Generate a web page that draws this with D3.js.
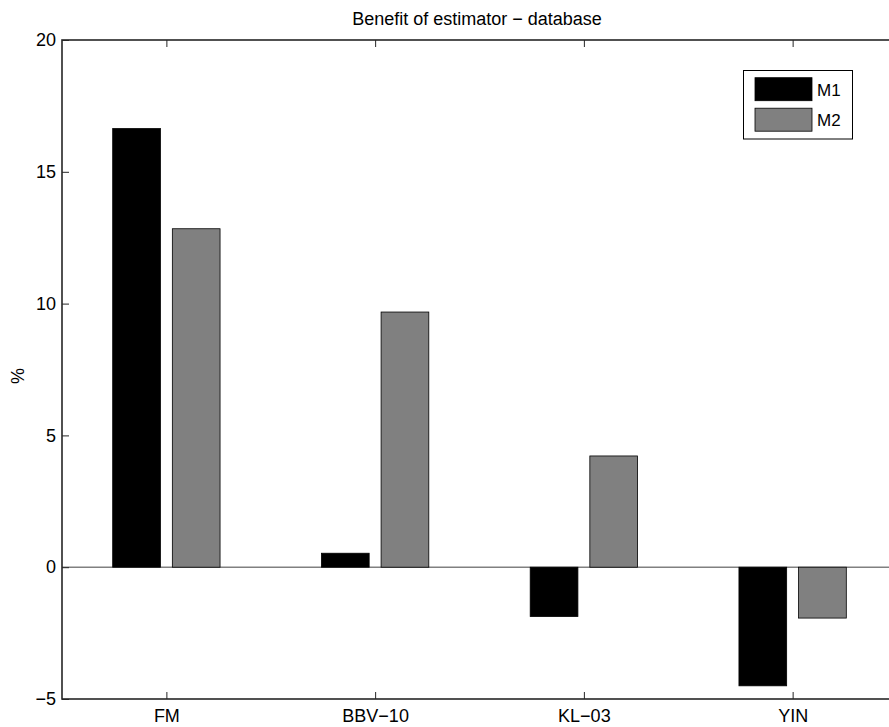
<!DOCTYPE html>
<html><head><meta charset="utf-8">
<script src="https://cdn.jsdelivr.net/npm/d3@7"></script>
<style>body{margin:0;background:#fff}svg{display:block;font-family:"Liberation Sans",Arial,sans-serif}</style>
</head><body>
<script>
const categories = ["FM", "BBV\u221210", "KL\u221203", "YIN"];
const seriesNames = ["M1", "M2"];
const m1Values = [16.64, 0.53, -1.87, -4.5];
const m2Values = [12.84, 9.68, 4.22, -1.93];
const seriesColors = ["#000000", "#808080"];
const yTicks = [-5, 0, 5, 10, 15, 20];
const yTickLabels = ["\u22125", "0", "5", "10", "15", "20"];
const titleText = "Benefit of estimator \u2212 database";
const yLabel = "%";

const W = 889, H = 727;
const pL = 62, pT = 40, pB = 699, pR = 897;
const FS = 18;
const svg = d3.select("body").append("svg").attr("width", W).attr("height", H);

const x = d3.scaleLinear().domain([0.5, 4.5]).range([pL, pR]);
const y = d3.scaleLinear().domain([-5, 20]).range([pB, pT]);

const nS = 2;
const groupW = Math.min(0.8, nS / (nS + 1.5));
const slot = groupW / nS;
const barW = slot * 0.8;
const series = [m1Values, m2Values];

// zero baseline
svg.append("line").attr("x1", pL).attr("x2", pR).attr("y1", y(0)).attr("y2", y(0))
  .attr("stroke", "#808080").attr("stroke-width", 1.5);

series.forEach((vals, s) => {
  const off = -groupW / 2 + slot * (s + 0.5);
  svg.append("g").selectAll("rect").data(vals).join("rect")
    .attr("x", (d, i) => x(i + 1 + off - barW / 2))
    .attr("width", (d, i) => x(i + 1 + off + barW / 2) - x(i + 1 + off - barW / 2))
    .attr("y", d => y(Math.max(0, d)))
    .attr("height", d => Math.abs(y(d) - y(0)))
    .attr("fill", seriesColors[s])
    .attr("stroke", "#000").attr("stroke-width", 0.8);
});

// axes frame
const frame = svg.append("g").attr("stroke", "#262626").attr("stroke-width", 1.6).attr("fill", "none");
frame.append("rect").attr("x", pL).attr("y", pT).attr("width", pR - pL).attr("height", pB - pT);

// left axis
const yAxis = d3.axisLeft(y).tickValues(yTicks).tickSizeInner(-7).tickSizeOuter(0)
  .tickFormat((d, i) => yTickLabels[i]).tickPadding(6);
const gy = svg.append("g").attr("transform", `translate(${pL},0)`).call(yAxis);
gy.select(".domain").remove();
gy.selectAll("line").attr("stroke", "#262626");
gy.selectAll("text").attr("font-size", FS).attr("fill", "#000").attr("font-family", "Liberation Sans, Arial, sans-serif");

// right ticks
const yAxisR = d3.axisRight(y).tickValues(yTicks).tickSizeInner(-7).tickSizeOuter(0).tickFormat("");
const gyr = svg.append("g").attr("transform", `translate(${pR},0)`).call(yAxisR);
gyr.select(".domain").remove();
gyr.selectAll("line").attr("stroke", "#262626");

// bottom axis
const xAxis = d3.axisBottom(x).tickValues([1, 2, 3, 4]).tickSizeInner(-7).tickSizeOuter(0)
  .tickFormat((d, i) => categories[i]).tickPadding(10);
const gx = svg.append("g").attr("transform", `translate(0,${pB})`).call(xAxis);
gx.select(".domain").remove();
gx.selectAll("line").attr("stroke", "#262626");
gx.selectAll("text").attr("font-size", FS).attr("fill", "#000").attr("font-family", "Liberation Sans, Arial, sans-serif");

// top ticks
const xAxisT = d3.axisTop(x).tickValues([1, 2, 3, 4]).tickSizeInner(-7).tickSizeOuter(0).tickFormat("");
const gxt = svg.append("g").attr("transform", `translate(0,${pT})`).call(xAxisT);
gxt.select(".domain").remove();
gxt.selectAll("line").attr("stroke", "#262626");

// title
svg.append("text").attr("x", 477).attr("y", 25).attr("text-anchor", "middle")
  .attr("font-size", FS).attr("fill", "#000").text(titleText);

// y label
svg.append("text").attr("transform", `translate(24,376) rotate(-90)`)
  .attr("text-anchor", "middle").attr("font-size", FS).attr("fill", "#000").text(yLabel);

// legend
const lg = svg.append("g");
lg.append("rect").attr("x", 743.5).attr("y", 70.5).attr("width", 109).attr("height", 68.5)
  .attr("fill", "#fff").attr("stroke", "#000").attr("stroke-width", 1);
seriesNames.forEach((n, i) => {
  const yy = 77.7 + i * 30.5;
  lg.append("rect").attr("x", 755).attr("y", yy).attr("width", 57).attr("height", 23)
    .attr("fill", seriesColors[i]).attr("stroke", "#000").attr("stroke-width", 0.8);
  lg.append("text").attr("x", 817).attr("y", yy + 18).attr("font-size", 17).attr("fill", "#000").text(n);
});
</script>
</body></html>
